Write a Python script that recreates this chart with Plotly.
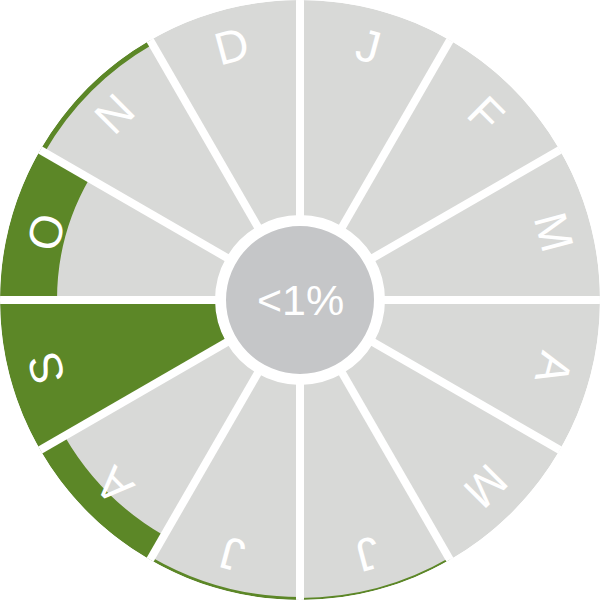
import math
import plotly.graph_objects as go

# months clockwise from the top
months = ["J", "F", "M", "A", "M", "J", "J", "A", "S", "O", "N", "D"]
# depth of the green fill, measured inward from the outer edge (radial units)
green = [0, 0, 0, 0, 0, 2, 3, 28, 215, 57, 5, 0]
centre_label = "<1%"

outer = 300
inner = 85
disk = 74
label_r = 263

GREY = "#d8d9d7"
GREEN = "#5c8727"
DISK = "#c5c6c8"

theta = [15 + 30 * i for i in range(12)]

fig = go.Figure()
# grey segments
fig.add_trace(go.Barpolar(theta=theta, r=[outer - inner] * 12, base=[inner] * 12,
                          width=[30] * 12, marker=dict(color=GREY, line=dict(width=0)),
                          hoverinfo="skip"))
# green part of each segment
fig.add_trace(go.Barpolar(theta=theta, r=green, base=[outer - g for g in green],
                          width=[30] * 12, marker=dict(color=GREEN, line=dict(width=0)),
                          hoverinfo="skip"))
# white dividers between months
for i in range(12):
    fig.add_trace(go.Scatterpolar(theta=[30 * i, 30 * i], r=[78, outer + 5], mode="lines",
                                  line=dict(color="white", width=8), hoverinfo="skip"))
# centre disk
fig.add_trace(go.Barpolar(theta=[0], r=[disk], base=[0], width=[360],
                          marker=dict(color=DISK, line=dict(width=0)), hoverinfo="skip"))

# month letters, rotated with the wheel
annots = []
for m, t in zip(months, theta):
    a = math.radians(t)
    annots.append(dict(x=0.5 + 0.5 * label_r / outer * math.sin(a),
                       y=0.5 + 0.5 * label_r / outer * math.cos(a),
                       xref="paper", yref="paper", xanchor="center", yanchor="middle",
                       text=m, showarrow=False,
                       textangle=t if t <= 180 else t - 360,
                       font=dict(family="Liberation Sans", size=46, color="white")))
annots.append(dict(x=0.5, y=0.5, xref="paper", yref="paper", xanchor="center", yanchor="middle",
                   text=centre_label, showarrow=False,
                   font=dict(family="Liberation Sans", size=43, color="white")))

fig.update_layout(
    width=600, height=600, margin=dict(l=0, r=0, t=0, b=0),
    paper_bgcolor="white", showlegend=False,
    polar=dict(domain=dict(x=[0, 1], y=[0, 1]), bgcolor="white", hole=0,
               radialaxis=dict(range=[0, outer], visible=False),
               angularaxis=dict(rotation=90, direction="clockwise", visible=False)),
    annotations=annots,
)

fig.write_html("out.html", config={"displayModeBar": False},
               post_script="document.body.style.margin='0';")
